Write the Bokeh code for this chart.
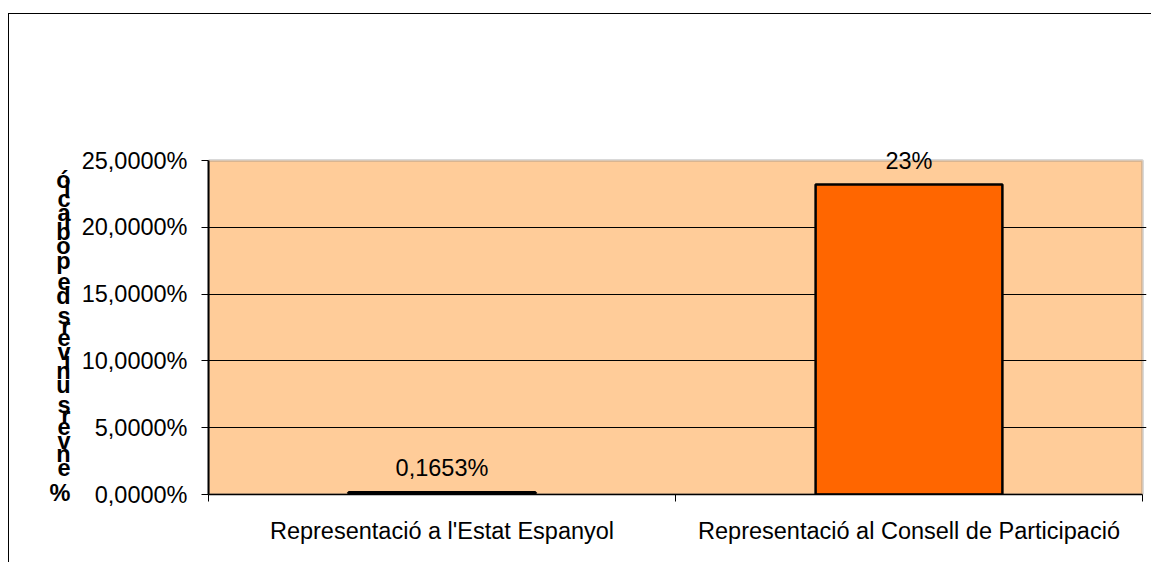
from bokeh.plotting import figure
from bokeh.models import (FixedTicker, Range1d, ColumnDataSource, LinearAxis, BoxAnnotation,
                          AllLabels)
from bokeh.embed import file_html
from bokeh.resources import INLINE
from bokeh.core.properties import value

# ---- data ----
categories = ["Representació a l'Estat Espanyol", "Representació al Consell de Participació"]
values = [0.1653, 23.2]
value_labels = ["0,1653%", "23%"]
y_ticks = [0, 5, 10, 15, 20, 25]
y_tick_labels = ["0,0000%", "5,0000%", "10,0000%", "15,0000%", "20,0000%", "25,0000%"]
y_title = "% envers univers de població"

FONT = "Liberation Sans"
FS = "23.5px"

n = len(categories)
x_pos = [i + 0.5 for i in range(n)]
src = ColumnDataSource(dict(x=x_pos, top=values, lbl=value_labels))

Y_MAX = y_ticks[-1]
PX_PER = 334 / Y_MAX          # pixels per unit in the plot area (vertical)
PX_X = 934 / n                # pixels per category
EXTRA = 2.5                   # headroom above plot area so the top label is not clipped
extra_px = round(EXTRA * PX_PER)
extra_r = 4

p = figure(width=1143, height=549,
           x_range=Range1d(0, n + extra_r / PX_X), y_range=Range1d(0, Y_MAX + extra_px / PX_PER),
           output_backend="svg", toolbar_location=None,
           min_border_left=199, min_border_right=10 - extra_r, min_border_top=146 - extra_px,
           min_border_bottom=69)
p.styles = {"border-left": "1px solid black", "border-top": "1px solid black",
            "margin-top": "13px", "margin-left": "8px"}

p.background_fill_color = "white"
p.border_fill_color = "white"
p.outline_line_color = None

# plot area (orange) with gray outline, under the grid
p.add_layout(BoxAnnotation(left=0, right=n, bottom=0, top=Y_MAX, fill_color="#FFCC99",
                           fill_alpha=1, line_color="#808080", line_width=3, level="image"))

p.xgrid.visible = False
p.ygrid.ticker = FixedTicker(ticks=y_ticks[:-1])
p.ygrid.grid_line_color = "black"
p.ygrid.grid_line_width = 1

p.vbar(x="x", top="top", bottom=0, width=0.4, source=src,
       fill_color="#FF6600", line_color="black", line_width=2.5)
p.text(x="x", y="top", text="lbl", source=src, text_align="center", text_baseline="middle",
       y_offset=-24, text_font=value(FONT), text_font_size=FS, text_color="black")

# x axis: labels at category centers, ticks at boundaries
xa = p.xaxis[0]
xa.ticker = FixedTicker(ticks=x_pos, minor_ticks=list(range(n + 1)))
xa.bounds = (0, n)
xa.major_label_overrides = {x: c for x, c in zip(x_pos, categories)}
xa.major_tick_out = 0
xa.major_tick_in = 0
xa.minor_tick_out = 7
xa.minor_tick_in = 0
xa.minor_tick_line_color = "black"
xa.axis_line_color = "black"
xa.axis_line_width = 1.5
xa.major_label_standoff = 16
xa.major_label_text_font = FONT
xa.major_label_text_font_size = FS
xa.major_label_text_color = "black"

ya = p.yaxis[0]
ya.ticker = FixedTicker(ticks=y_ticks)
ya.bounds = (0, Y_MAX)
ya.major_label_overrides = {t: s for t, s in zip(y_ticks, y_tick_labels)}
ya.major_tick_out = 7
ya.major_tick_in = 0
ya.minor_tick_line_color = None
ya.major_tick_line_color = "black"
ya.axis_line_color = "black"
ya.axis_line_width = 2
ya.major_label_standoff = 14
ya.major_label_text_font = FONT
ya.major_label_text_font_size = FS
ya.major_label_text_color = "black"

# stacked vertical axis title (characters upright, first char at bottom),
# drawn as the tick labels of an extra, line-less left axis
W = {'%': .889, ' ': .278, 'e': .556, 'n': .556, 'v': .5, 'r': .333, 's': .5, 'u': .556,
     'i': .222, 'd': .556, 'p': .556, 'o': .556, 'b': .556, 'l': .222, 'a': .556, 'c': .5, 'ó': .556}
em = 25.4
yy = 1.0
prev = None
t_pos, t_chr = [], []
for ch in y_title:
    if prev is not None:
        yy += (W.get(prev, .556) + W.get(ch, .556)) / 2 * em
    prev = ch
    if ch.strip():
        t_pos.append(round(yy / PX_PER, 4))
        t_chr.append(ch)

ta = LinearAxis(ticker=FixedTicker(ticks=t_pos),
                major_label_overrides={t: c for t, c in zip(t_pos, t_chr)},
                major_label_policy=AllLabels(),
                axis_line_color=None, major_tick_line_color=None, minor_tick_line_color=None,
                major_tick_out=0, major_tick_in=0, minor_tick_out=0, minor_tick_in=0,
                major_label_standoff=8, major_label_text_align="center",
                major_label_text_font=FONT, major_label_text_font_size=FS,
                major_label_text_font_style="bold", major_label_text_color="black")
p.add_layout(ta, "left")

open("out.html", "w").write(file_html(p, INLINE))
